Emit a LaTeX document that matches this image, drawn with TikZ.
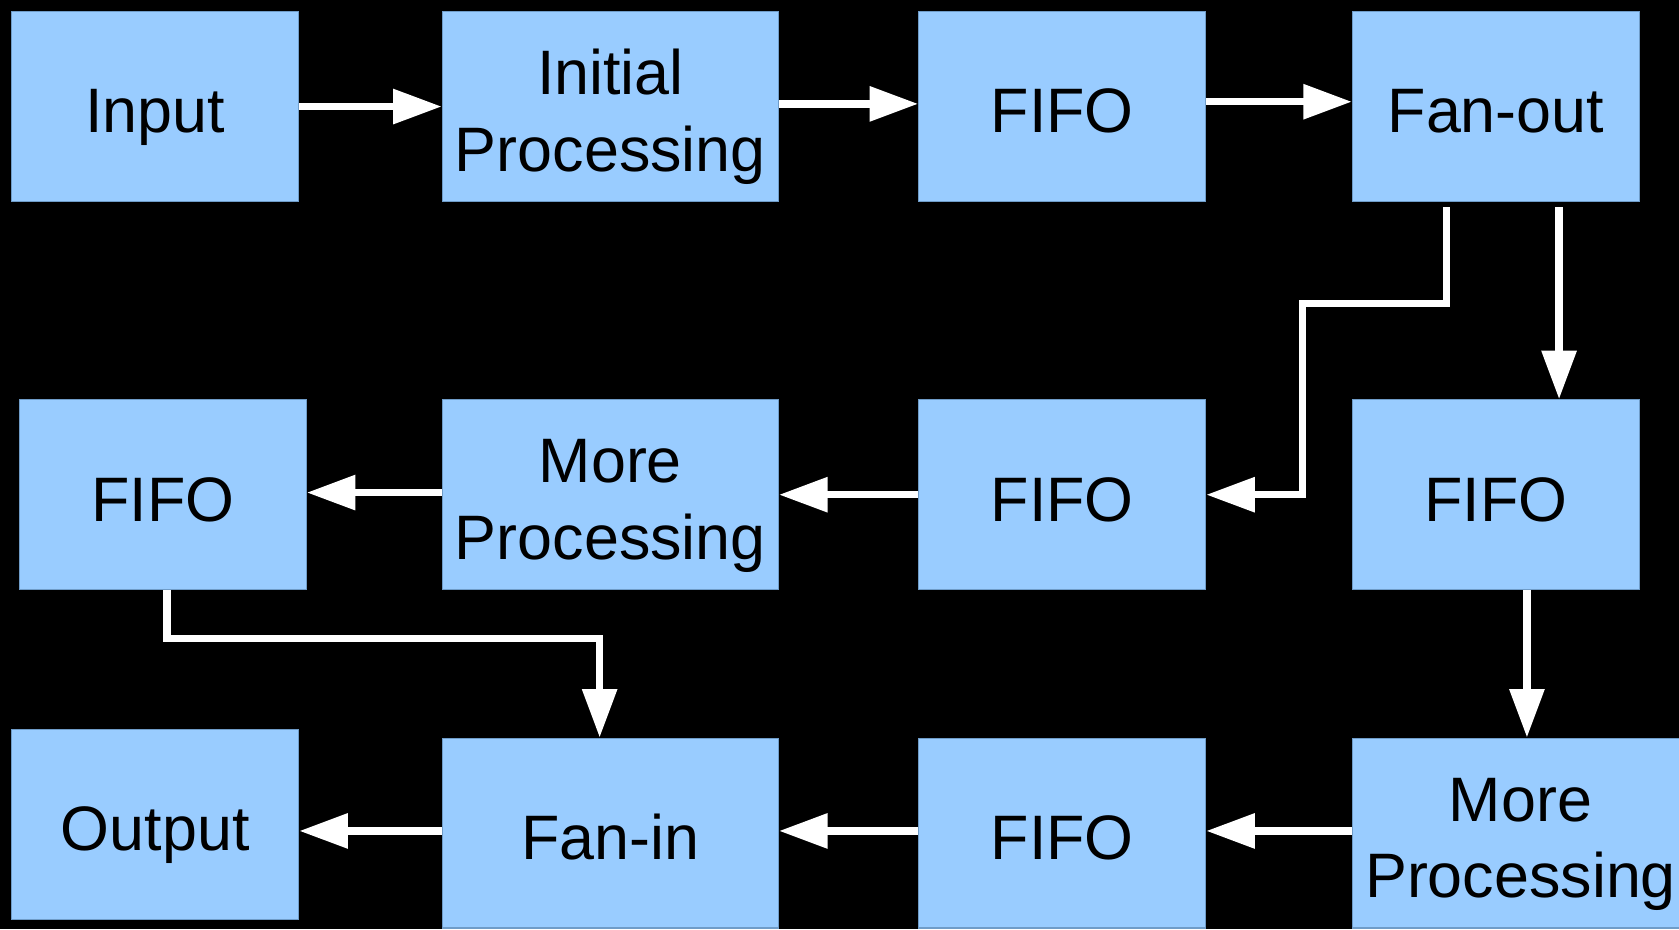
\documentclass[tikz,border=0pt]{standalone}
\usepackage{fontspec}
\setmainfont{Liberation Sans}
\usepackage{tikz}
\usetikzlibrary{arrows.meta}
\usetikzlibrary{calc}

\definecolor{boxfill}{HTML}{99CCFF}
\definecolor{boxline}{HTML}{6F9CC8}
\newcommand{\blockfont}{\fontsize{44}{53.5}\selectfont}

\tikzset{
  block/.style={draw=boxline, line width=0.75pt, fill=boxfill, minimum width=201pt, minimum height=133pt, inner sep=0pt, align=center, font=\blockfont, text height=37pt, text depth=0pt},
  wideblock/.style={block, minimum width=235.5pt},
  twoline/.style={text height=90.5pt, text depth=0pt},
  flow/.style={draw=white, line width=5.2pt, -{Triangle[length=34pt,width=23.5pt]}}
}

\begin{document}
\begin{tikzpicture}[x=0.75pt,y=0.75pt,yscale=-1,xscale=1]
%set diagram to 1568 x 868, black background
\fill[black] (0,0) rectangle (1568,868);
\useasboundingbox (0,0) rectangle (1568,868);

% Top row
\draw (145,99.5) node [block] (in) {Input};
\draw (570,99.5) node [wideblock,twoline] (init) {Initial\\Processing};
\draw (992,99.5) node [block] (fifoa) {FIFO};
\draw (1397,99.5) node [block] (fanout) {Fan-out};

% Middle row
\draw (152,462) node [block] (fifoe) {FIFO};
\draw (570,462) node [wideblock,twoline] (morea) {More\\Processing};
\draw (992,462) node [block] (fifoc) {FIFO};
\draw (1397,462) node [block] (fifob) {FIFO};

% Bottom row
\draw (145,770) node [block] (out) {Output};
\draw (570,778) node [wideblock] (fanin) {Fan-in};
\draw (992,778) node [block] (fifod) {FIFO};
\draw (1420,778) node [wideblock,twoline] (moreb) {More\\Processing};

% Tap points
\coordinate (tapa) at ($(fanout.south)+(59,5)$);
\coordinate (tapc) at ($(fanout.south)+(-46,5)$);
\coordinate (tapb) at ($(fifob.south)+(29,0)$);
\coordinate (tape) at ($(fifoe.south)+(4,0)$);

% Straight Lines
\draw [flow] (in) -- (init);
\draw [flow] (init.east |- 0,97) -- (fifoa.west |- 0,97);
\draw [flow] (fifoa.east |- 0,95) -- (fanout.west |- 0,95);
\draw [flow] (tapa) -- (tapa |- fifob.north);
\draw [flow] (tapc) -- ++(0,90) -| ($(fifoc.east)+(90,0)$) -- (fifoc.east);
\draw [flow] (fifoc) -- (morea);
\draw [flow] (morea.west |- 0,460) -- (fifoe.east |- 0,460);
\draw [flow] (tapb) -- (tapb |- moreb.north);
\draw [flow] (tape) -- ++(0,45) -| ($(fanin.north)+(-10,0)$);
\draw [flow] (moreb.west |- 0,776) -- (fifod.east |- 0,776);
\draw [flow] (fifod.west |- 0,776) -- (fanin.east |- 0,776);
\draw [flow] (fanin.west |- 0,776) -- (out.east |- 0,776);

\end{tikzpicture}
\end{document}
